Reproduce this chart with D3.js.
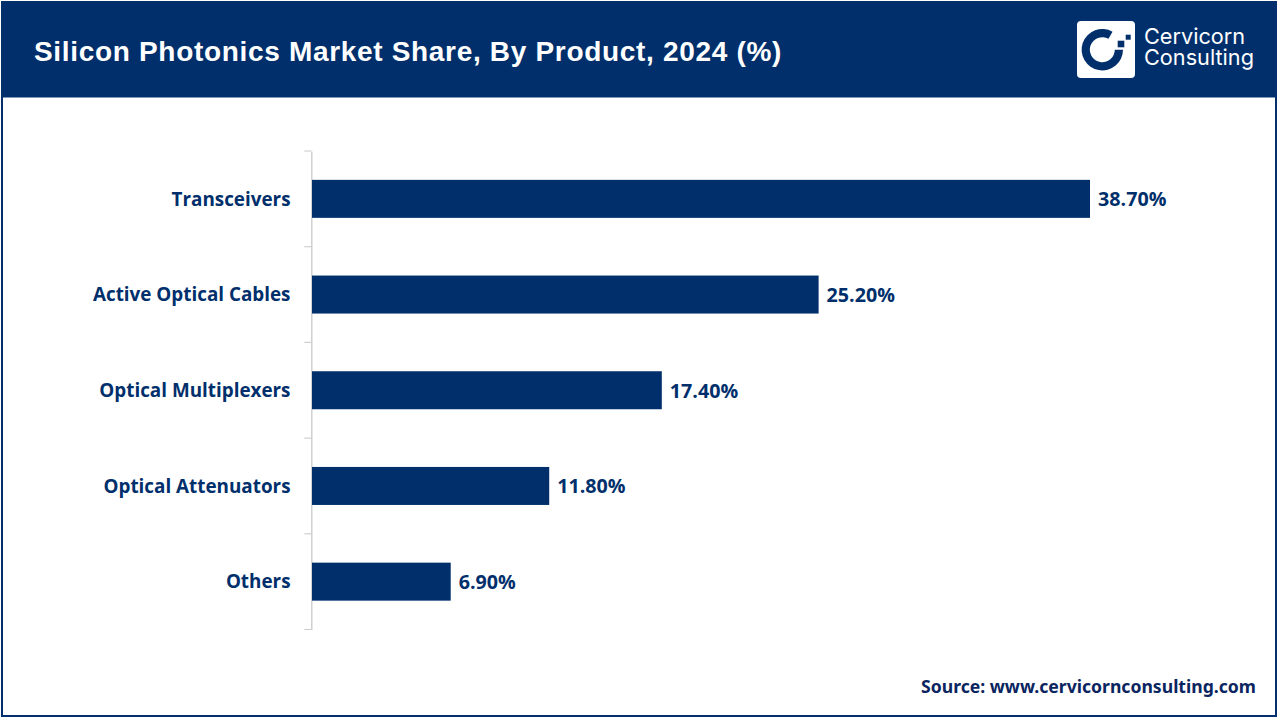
<!DOCTYPE html>
<html>
<head>
<meta charset="utf-8">
<script src="https://cdnjs.cloudflare.com/ajax/libs/d3/7.8.5/d3.min.js"></script>
<style>
  html, body { margin: 0; padding: 0; background: #fff; }
  svg { display: block; }
  .cat { font-family: "Open Sans", sans-serif; font-weight: 700; font-size: 18.85px; fill: #002f6c; }
  .val { font-family: "Open Sans", sans-serif; font-weight: 700; font-size: 19.7px; fill: #002f6c; }
</style>
</head>
<body>
<svg id="chart" width="1280" height="720"></svg>
<script>
const categories = ["Transceivers", "Active Optical Cables", "Optical Multiplexers", "Optical Attenuators", "Others"];
const shares = [38.7, 25.2, 17.4, 11.8, 6.9];

const navy = "#002f6c";
const svg = d3.select("#chart");

// frame + header
svg.append("rect").attr("x", 2).attr("y", 2).attr("width", 1274).attr("height", 714)
  .attr("fill", "#fff").attr("stroke", navy).attr("stroke-width", 2);
svg.append("rect").attr("x", 1).attr("y", 1).attr("width", 1276).attr("height", 96.5).attr("fill", navy);

svg.append("text").attr("x", 34).attr("y", 61)
  .attr("font-family", "'Liberation Sans', Arial, sans-serif")
  .attr("font-weight", 700).attr("font-size", 28).attr("letter-spacing", 0.68)
  .attr("fill", "#fff").text("Silicon Photonics Market Share, By Product, 2024 (%)");

// logo
const logo = svg.append("g").attr("transform", "translate(1077,21)");
logo.append("rect").attr("width", 58).attr("height", 57).attr("rx", 4).attr("fill", "#fff");
logo.append("path").attr("transform", "translate(25.3,28.7)")
  .attr("d", d3.arc().innerRadius(12.5).outerRadius(20.7).startAngle(1.57).endAngle(6.8)())
  .attr("fill", navy);
logo.append("rect").attr("x", 40.7).attr("y", 19.7).attr("width", 6.6).attr("height", 6.6).attr("fill", navy);
logo.append("rect").attr("x", 48.7).attr("y", 13.7).attr("width", 5).attr("height", 5).attr("fill", navy);
const logoText = svg.append("text")
  .attr("font-family", "Inter, sans-serif").attr("font-size", 21.7).attr("fill", "#fff");
[["Cervicorn", 43.5], ["Consulting", 65]].forEach(([t, y]) => {
  logoText.append("tspan").attr("x", 1144).attr("y", y).text(t);
});

// scales
const x = d3.scaleLinear().domain([0, 38.7]).range([312, 1090]);
const y = d3.scaleBand().domain(categories).range([151, 629.5]);
const barH = 38;

const axis = svg.append("g").attr("transform", "translate(311.25,0)")
  .call(d3.axisLeft(y).tickSize(0).tickFormat(""));
axis.select(".domain").attr("stroke", "#d0d0d0").attr("stroke-width", 1.5);

// category separators on the axis
const edges = y.domain().map(c => y(c)).concat([y.range()[1]]);
axis.selectAll("line.sep").data(edges).enter().append("line").attr("class", "sep")
  .attr("x1", -7).attr("x2", 0).attr("y1", d => d).attr("y2", d => d)
  .attr("stroke", "#d0d0d0").attr("stroke-width", 1.2);

const rows = categories.map((c, i) => ({ c, v: shares[i] }));

svg.selectAll("rect.bar").data(rows).enter().append("rect").attr("class", "bar")
  .attr("x", x(0)).attr("width", d => x(d.v) - x(0))
  .attr("y", d => y(d.c) + (y.bandwidth() - barH) / 2).attr("height", barH)
  .attr("fill", navy);

svg.selectAll("text.cat").data(rows).enter().append("text").attr("class", "cat")
  .attr("x", 290.5).attr("y", d => y(d.c) + y.bandwidth() / 2 + 6.7)
  .attr("text-anchor", "end").text(d => d.c);

svg.selectAll("text.val").data(rows).enter().append("text").attr("class", "val")
  .attr("x", d => x(d.v) + 8).attr("y", d => y(d.c) + y.bandwidth() / 2 + 7.5)
  .text(d => d.v.toFixed(2) + "%");

svg.append("text").attr("x", 1256).attr("y", 692.5).attr("text-anchor", "end")
  .attr("font-family", "'Noto Sans', sans-serif").attr("font-weight", 700)
  .attr("font-size", 17.6).attr("fill", "#0b2560")
  .text("Source: www.cervicornconsulting.com");
</script>
</body>
</html>
